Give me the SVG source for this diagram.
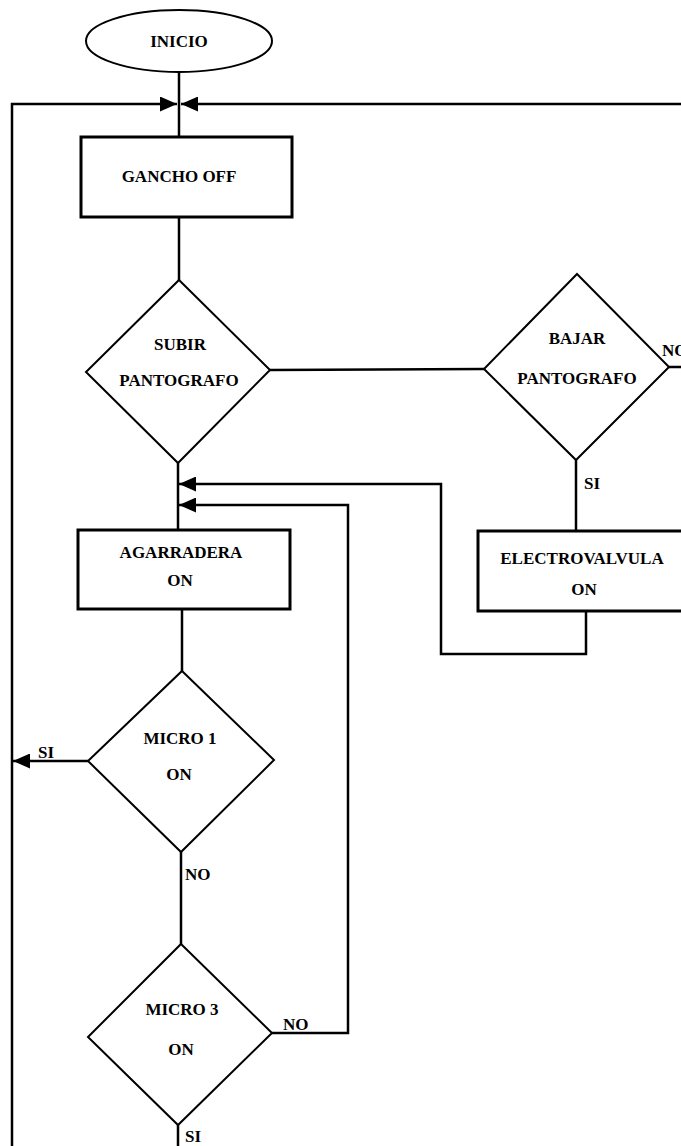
<svg xmlns="http://www.w3.org/2000/svg" width="681" height="1146" viewBox="0 0 681 1146">
  <style>
    .shape { fill: #ffffff; stroke: #000000; stroke-width: 2; }
    .box { fill: #ffffff; stroke: #000000; stroke-width: 3; }
    .wire { fill: none; stroke: #000000; stroke-width: 2.5; }
    .lbl { font-family: "Liberation Serif", "Times New Roman", serif; font-weight: bold; font-size: 17px; fill: #000000; }
    .c { text-anchor: middle; }
  </style>
  <defs>
    <marker id="arrow" markerUnits="userSpaceOnUse" markerWidth="17" markerHeight="15" refX="17" refY="7.5" orient="auto">
      <path d="M0,0 L17,7.5 L0,15 Z" fill="#000000"/>
    </marker>
  </defs>
  <rect width="681" height="1146" fill="#ffffff"/>

  <!-- connectors -->
  <g id="connectors">
    <line class="wire" x1="179" y1="72" x2="179" y2="137"/>
    <!-- return loop on the left -->
    <path class="wire" d="M178,1125 V1170 H12 V104 H177" marker-end="url(#arrow)"/>
    <!-- return loop on the right -->
    <path class="wire" d="M669,367 H700 V104 H181" marker-end="url(#arrow)"/>
    <line class="wire" x1="179" y1="217" x2="179" y2="280"/>
    <line class="wire" x1="270" y1="370" x2="484" y2="369"/>
    <line class="wire" x1="178" y1="463" x2="178" y2="530"/>
    <line class="wire" x1="576" y1="460" x2="576" y2="531"/>
    <path class="wire" d="M586,611 V654 H441 V484 H179" marker-end="url(#arrow)"/>
    <path class="wire" d="M272,1033 H348 V505 H179" marker-end="url(#arrow)"/>
    <line class="wire" x1="182" y1="609" x2="182" y2="671"/>
    <line class="wire" x1="88" y1="761" x2="13" y2="761" marker-end="url(#arrow)"/>
    <line class="wire" x1="181" y1="852" x2="181" y2="944"/>
    <text class="lbl" x="662" y="356">NO</text>
    <text class="lbl" x="584" y="489">SI</text>
    <text class="lbl" x="38" y="758">SI</text>
    <text class="lbl" x="185" y="880">NO</text>
    <text class="lbl" x="283" y="1030">NO</text>
    <text class="lbl" x="185" y="1142">SI</text>
  </g>

  <g id="inicio">
    <ellipse class="shape" cx="179" cy="41" rx="93" ry="31"/>
    <text class="lbl c" x="179" y="47">INICIO</text>
  </g>

  <g id="gancho-off">
    <rect class="box" x="81" y="137" width="211" height="80"/>
    <text class="lbl c" x="179" y="182">GANCHO OFF</text>
  </g>

  <g id="subir-pantografo">
    <polygon class="shape" points="179,280 270,370 178,463 86,372"/>
    <text class="lbl c" x="180" y="350">SUBIR</text>
    <text class="lbl c" x="179" y="386">PANTOGRAFO</text>
  </g>

  <g id="bajar-pantografo">
    <polygon class="shape" points="577,274 669,367 576,460 484,369"/>
    <text class="lbl c" x="577" y="344">BAJAR</text>
    <text class="lbl c" x="577" y="384">PANTOGRAFO</text>
  </g>

  <g id="electrovalvula-on">
    <rect class="box" x="478" y="531" width="215" height="80"/>
    <text class="lbl c" x="582" y="564">ELECTROVALVULA</text>
    <text class="lbl c" x="584" y="595">ON</text>
  </g>

  <g id="agarradera-on">
    <rect class="box" x="78" y="530" width="212" height="79"/>
    <text class="lbl c" x="181" y="558">AGARRADERA</text>
    <text class="lbl c" x="180" y="586">ON</text>
  </g>

  <g id="micro-1-on">
    <polygon class="shape" points="182,671 274,760 181,852 88,761"/>
    <text class="lbl c" x="180" y="744">MICRO 1</text>
    <text class="lbl c" x="179" y="780">ON</text>
  </g>

  <g id="micro-3-on">
    <polygon class="shape" points="181,944 272,1033 178,1125 88,1037"/>
    <text class="lbl c" x="182" y="1015">MICRO 3</text>
    <text class="lbl c" x="181" y="1055">ON</text>
  </g>
</svg>
